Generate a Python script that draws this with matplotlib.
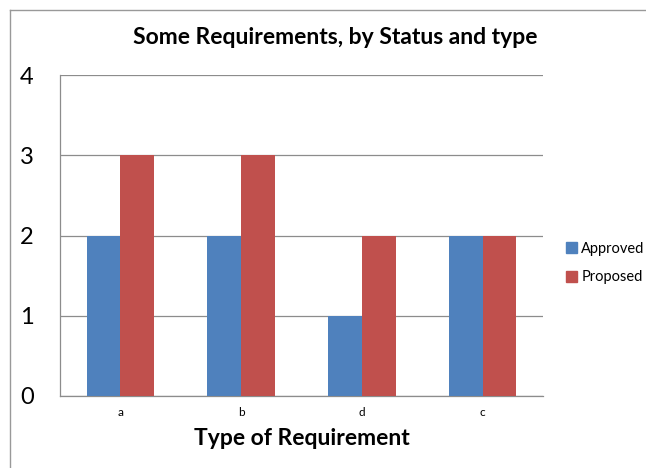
import matplotlib.pyplot as plt
from matplotlib.lines import Line2D
from matplotlib.patches import Patch
import numpy as np

categories = ['a', 'b', 'd', 'c']
approved = [2, 2, 1, 2]
proposed = [3, 3, 2, 2]

BLUE = '#4F81BD'
RED = '#C0504D'
GRID = '#8C8C8C'

plt.rcParams['font.family'] = ['Lato', 'DejaVu Sans']

fig = plt.figure(figsize=(6.46, 4.68), dpi=100)
W, H = 646, 468
ax = fig.add_axes([60 / W, 1 - 396 / H, 483 / W, 321 / H])

x = np.arange(len(categories))
w = 0.28
ax.bar(x - w / 2, approved, w, color=BLUE, label='Approved', zorder=3)
ax.bar(x + w / 2, proposed, w, color=RED, label='Proposed', zorder=3)

ax.set_xlim(-0.5, len(categories) - 0.5)
ax.set_ylim(0, 4)
ax.set_yticks([0, 1, 2, 3, 4])
ax.set_xticks(x)
ax.set_xticklabels(categories)
ax.tick_params(axis='y', length=0, pad=19, labelsize=17)
ax.tick_params(axis='x', length=0, pad=8, labelsize=8.5)
ax.yaxis.grid(True, color=GRID, linewidth=0.9, zorder=0)
for s in ['top', 'right']:
    ax.spines[s].set_visible(False)
for s in ['left', 'bottom']:
    ax.spines[s].set_color(GRID)
    ax.spines[s].set_linewidth(0.9)

ax.set_xlabel('Type of Requirement', fontsize=16.5, fontweight='bold', labelpad=7)
fig.text(335 / W, 1 - 37 / H, 'Some Requirements, by Status and type',
         ha='center', va='center', fontsize=16.5, fontweight='bold')

handles = [Patch(color=BLUE, label='Approved'), Patch(color=RED, label='Proposed')]
fig.legend(handles=handles, loc='center left', bbox_to_anchor=(566 / W, 1 - 263 / H),
           frameon=False, fontsize=10.5, handlelength=0.75, handleheight=0.75,
           handletextpad=0.3, labelspacing=1.0, borderpad=0, borderaxespad=0)

# outer chart border (cut off at right and bottom)
fig.add_artist(Line2D([10 / W, 10 / W], [0, 1 - 10 / H], color='#999999', linewidth=1))
fig.add_artist(Line2D([10 / W, 1], [1 - 10 / H, 1 - 10 / H], color='#999999', linewidth=1))

fig.savefig('out.png', dpi=100)
